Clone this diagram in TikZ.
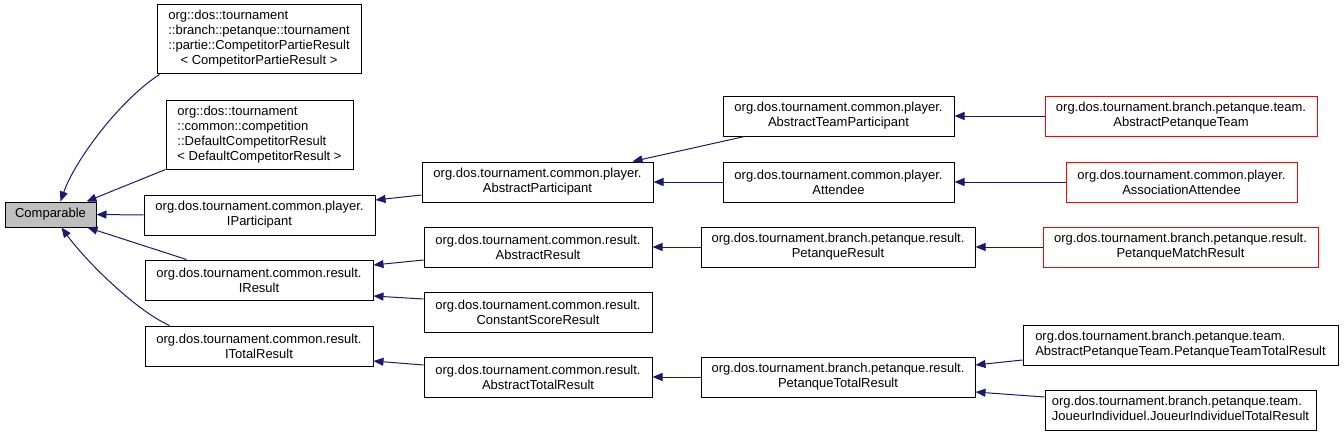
\documentclass[tikz,border=0pt]{standalone}
\usepackage{fontspec}
\setmainfont{Liberation Sans}
\usetikzlibrary{arrows.meta}
\definecolor{edgeblue}{HTML}{191970}
\definecolor{cmpgray}{HTML}{BFBFBF}
\newcommand{\lft}[1]{\begin{tabular}{@{}l@{}}#1\end{tabular}}
\newcommand{\ctr}[1]{\multicolumn{1}{@{}c@{}}{#1}}
\tikzset{
  cls/.style={draw=black, line width=1pt, fill=white, inner sep=0pt,
    minimum height=40pt, align=center, font=\fontsize{13}{15}\selectfont},
  redcls/.style={cls, draw=red},
  inh/.style={draw=edgeblue, line width=1pt, -{Triangle[length=10pt,width=8pt]}}
}
\begin{document}
\begin{tikzpicture}[x=1pt,y=-1pt]
\useasboundingbox (0,0) rectangle (1344,436);
% column 0
\node[cls, fill=cmpgray, minimum width=91pt, minimum height=25pt] (cmp) at (50.5,214.5) {Comparable};
% column 1
\node[cls, minimum width=204pt, minimum height=69pt] (cpr) at (259,39.5)
  {\lft{org::dos::tournament\\ ::branch::petanque::tournament\\ ::partie::CompetitorPartieResult\\ \ctr{< CompetitorPartieResult >}}};
\node[cls, minimum width=187pt, minimum height=69pt] (dcr) at (259.5,134.5)
  {\lft{org::dos::tournament\\ ::common::competition\\ ::DefaultCompetitorResult\\ \ctr{< DefaultCompetitorResult >}}};
\node[cls, minimum width=231pt] (ipart) at (259.5,215) {org.dos.tournament.common.player.\\IParticipant};
\node[cls, minimum width=228pt] (ires) at (259,280) {org.dos.tournament.common.result.\\IResult};
\node[cls, minimum width=228pt] (itot) at (259,346) {org.dos.tournament.common.result.\\ITotalResult};
% column 2
\node[cls, minimum width=231pt] (apart) at (537.5,182) {org.dos.tournament.common.player.\\AbstractParticipant};
\node[cls, minimum width=228pt] (ares) at (538,247) {org.dos.tournament.common.result.\\AbstractResult};
\node[cls, minimum width=228pt] (csr) at (538,312) {org.dos.tournament.common.result.\\ConstantScoreResult};
\node[cls, minimum width=228pt] (atot) at (538,377) {org.dos.tournament.common.result.\\AbstractTotalResult};
% column 3
\node[cls, minimum width=231pt] (atp) at (838.5,116) {org.dos.tournament.common.player.\\AbstractTeamParticipant};
\node[cls, minimum width=231pt] (att) at (838.5,182) {org.dos.tournament.common.player.\\Attendee};
\node[cls, minimum width=274pt] (pres) at (838,247) {org.dos.tournament.branch.petanque.result.\\PetanqueResult};
\node[cls, minimum width=274pt] (ptot) at (838,377) {org.dos.tournament.branch.petanque.result.\\PetanqueTotalResult};
% column 4
\node[redcls, minimum width=272pt] (apt) at (1181,116) {org.dos.tournament.branch.petanque.team.\\AbstractPetanqueTeam};
\node[redcls, minimum width=231pt] (aatt) at (1181.5,182) {org.dos.tournament.common.player.\\AssociationAttendee};
\node[redcls, minimum width=275pt] (pmr) at (1180.5,247) {org.dos.tournament.branch.petanque.result.\\PetanqueMatchResult};
\node[cls, minimum width=315pt] (pttr) at (1180.5,345) {\lft{org.dos.tournament.branch.petanque.team.\\ AbstractPetanqueTeam.PetanqueTeamTotalResult}};
\node[cls, minimum width=271pt] (jitr) at (1180.5,410) {\lft{org.dos.tournament.branch.petanque.team.\\ JoueurIndividuel.JoueurIndividuelTotalResult}};
% edges
\draw[inh] ([xshift=3pt]cpr.south west) .. controls (120,100) and (75,160) .. ([xshift=10pt]cmp.north);
\draw[inh] (dcr.south west) -- ([xshift=-10pt]cmp.north east);
\draw[inh] (ipart.west) -- (cmp.east);
\draw[inh] ([xshift=42pt]ires.north west) -- ([xshift=-9pt]cmp.south east);
\draw[inh] ([xshift=25pt]itot.north west) .. controls (135,310) and (85,260) .. ([xshift=11pt]cmp.south);
\draw[inh] ([yshift=-13pt]apart.west) -- ([yshift=15pt]ipart.east);
\draw[inh] ([yshift=-13pt]ares.west) -- ([yshift=15pt]ires.east);
\draw[inh] ([yshift=13pt]csr.west) -- ([yshift=-16pt]ires.east);
\draw[inh] ([yshift=12pt]atot.west) -- ([yshift=-15pt]itot.east);
\draw[inh] ([xshift=22pt]atp.south west) -- ([xshift=-21pt]apart.north east);
\draw[inh] (att.west) -- (apart.east);
\draw[inh] (pres.west) -- (ares.east);
\draw[inh] (ptot.west) -- (atot.east);
\draw[inh] (apt.west) -- (atp.east);
\draw[inh] (aatt.west) -- (att.east);
\draw[inh] (pmr.west) -- (pres.east);
\draw[inh] ([yshift=-15pt]pttr.west) -- ([yshift=12pt]ptot.east);
\draw[inh] ([yshift=13pt]jitr.west) -- ([yshift=-15pt]ptot.east);
\end{tikzpicture}
\end{document}
